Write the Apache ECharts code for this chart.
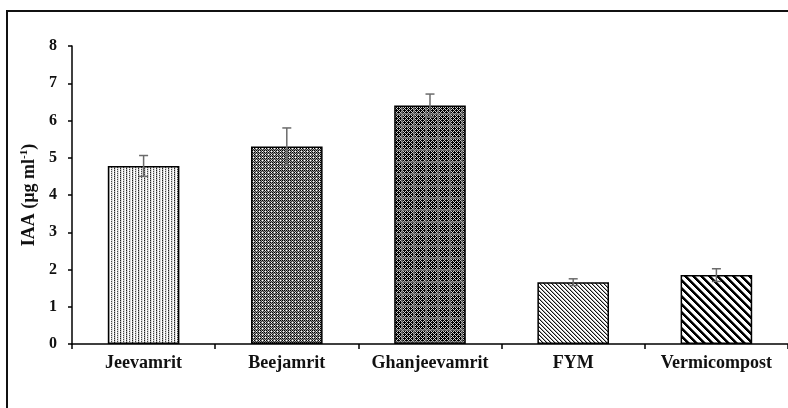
<!DOCTYPE html>
<html>
<head>
<meta charset="utf-8">
<script src="https://cdn.jsdelivr.net/npm/echarts@6/dist/echarts.min.js"></script>
<style>html,body{margin:0;padding:0;background:#fff}#c{width:788px;height:408px}</style>
</head>
<body>
<div id="c"></div>
<script>
const categories = ['Jeevamrit', 'Beejamrit', 'Ghanjeevamrit', 'FYM', 'Vermicompost'];
const meanValues = [4.78, 5.30, 6.40, 1.66, 1.85];
const errorValues = [0.28, 0.50, 0.31, 0.09, 0.17];
const yMin = 0, yMax = 8, yStep = 1;

function makeTile(w, h, fn) {
  const c = document.createElement('canvas');
  c.width = w; c.height = h;
  const ctx = c.getContext('2d');
  ctx.fillStyle = '#fff'; ctx.fillRect(0, 0, w, h);
  for (let y = 0; y < h; y++) for (let x = 0; x < w; x++) {
    const col = fn(x, y);
    if (col) { ctx.fillStyle = col; ctx.fillRect(x, y, 1, 1); }
  }
  return c;
}
const patterns = [
  // fine dotted, vertical texture (light)
  makeTile(6, 2, (x, y) => {
    if (x === 0) return (y === 0) ? '#222' : '#999';
    if (x === 3) return (y === 1) ? '#444' : '#ccc';
    if (x === 1 || x === 4) return '#ddd';
    return null;
  }),
  // darker grid with white dots
  makeTile(6, 6, (x, y) => {
    if (x % 3 === 1 && y % 3 === 1) return (x === 4 && y === 4) ? null : '#fff';
    if (x % 2 === 0 && y % 2 === 0) return '#000';
    if ((x + y) % 2 === 0) return '#333';
    return '#999';
  }),
  // dark lattice checkered
  makeTile(12, 12, (x, y) => {
    const band = (x === 5 || x === 6 || y === 5 || y === 6);
    const lat = ((x + y) % 4 === 0) || ((x - y + 12) % 4 === 0);
    if (band) return lat ? '#aaa' : '#555';
    return lat ? '#ccc' : '#000';
  }),
  // thin diagonal lines
  makeTile(4, 4, (x, y) => {
    const d = ((x - y) % 4 + 4) % 4;
    if (d === 0) return '#111';
    if (d === 1) return '#aaa';
    return null;
  }),
  // thick diagonal lines
  makeTile(8, 8, (x, y) => {
    const d = ((x - y) % 8 + 8) % 8;
    if (d <= 2) return '#000';
    if (d === 3) return '#777';
    return null;
  })
];

const chart = echarts.init(document.getElementById('c'), null, { renderer: 'canvas' });
const fontFam = '"Liberation Serif", "Times New Roman", serif';

chart.setOption({
  animation: false,
  backgroundColor: '#fff',
  graphic: [{
    type: 'rect', z: 100,
    shape: { x: 7, y: 11, width: 820, height: 430 },
    style: { fill: 'none', stroke: '#111', lineWidth: 2 }
  }],
  grid: { left: 72, right: -3, top: 46, bottom: 64 },
  xAxis: {
    type: 'category',
    data: categories,
    axisLine: { lineStyle: { color: '#000', width: 1.5 } },
    axisTick: { show: true, alignWithLabel: false, interval: 0, length: 5, lineStyle: { color: '#000', width: 1.5 } },
    axisLabel: { interval: 0, color: '#111', fontFamily: fontFam, fontWeight: 'bold', fontSize: 18, margin: 10 }
  },
  yAxis: {
    type: 'value',
    min: yMin, max: yMax, interval: yStep,
    splitLine: { show: false },
    axisLine: { show: true, lineStyle: { color: '#000', width: 1.5 } },
    axisTick: { show: true, length: 4, lineStyle: { color: '#000', width: 1.5 } },
    axisLabel: { color: '#111', fontFamily: fontFam, fontWeight: 'bold', fontSize: 16, margin: 15 },
    name: '{a|IAA (µg ml}{s|-1}{a|)}',
    nameLocation: 'middle',
    nameRotate: 90,
    nameGap: 32,
    nameTextStyle: {
      rich: {
        a: { fontFamily: fontFam, fontWeight: 'bold', fontSize: 18, color: '#111', lineHeight: 20 },
        s: { fontFamily: fontFam, fontWeight: 'bold', fontSize: 11, color: '#111', lineHeight: 20, verticalAlign: 'top', padding: [0, 0, 8, 0] }
      }
    }
  },
  series: [{
    type: 'bar',
    barWidth: '50%',
    data: meanValues.map((v, i) => ({
      value: v,
      itemStyle: { color: { image: patterns[i], repeat: 'repeat' } }
    })),
    itemStyle: { borderColor: '#000', borderWidth: 1.5 }
  }, {
    type: 'custom',
    z: 5,
    data: meanValues.map((v, i) => [i, v, errorValues[i]]),
    renderItem: function (params, api) {
      const x = api.value(0), y = api.value(1), e = api.value(2);
      const top = api.coord([x, y + e]);
      const bot = api.coord([x, y - e]);
      const hw = 4.5;
      const st = { stroke: '#6b6b6b', lineWidth: 1.5 };
      return {
        type: 'group',
        children: [
          { type: 'line', shape: { x1: top[0], y1: top[1], x2: bot[0], y2: bot[1] }, style: st },
          { type: 'line', shape: { x1: top[0] - hw, y1: top[1], x2: top[0] + hw, y2: top[1] }, style: st },
          { type: 'line', shape: { x1: bot[0] - hw, y1: bot[1], x2: bot[0] + hw, y2: bot[1] }, style: st }
        ]
      };
    }
  }]
});
</script>
</body>
</html>
